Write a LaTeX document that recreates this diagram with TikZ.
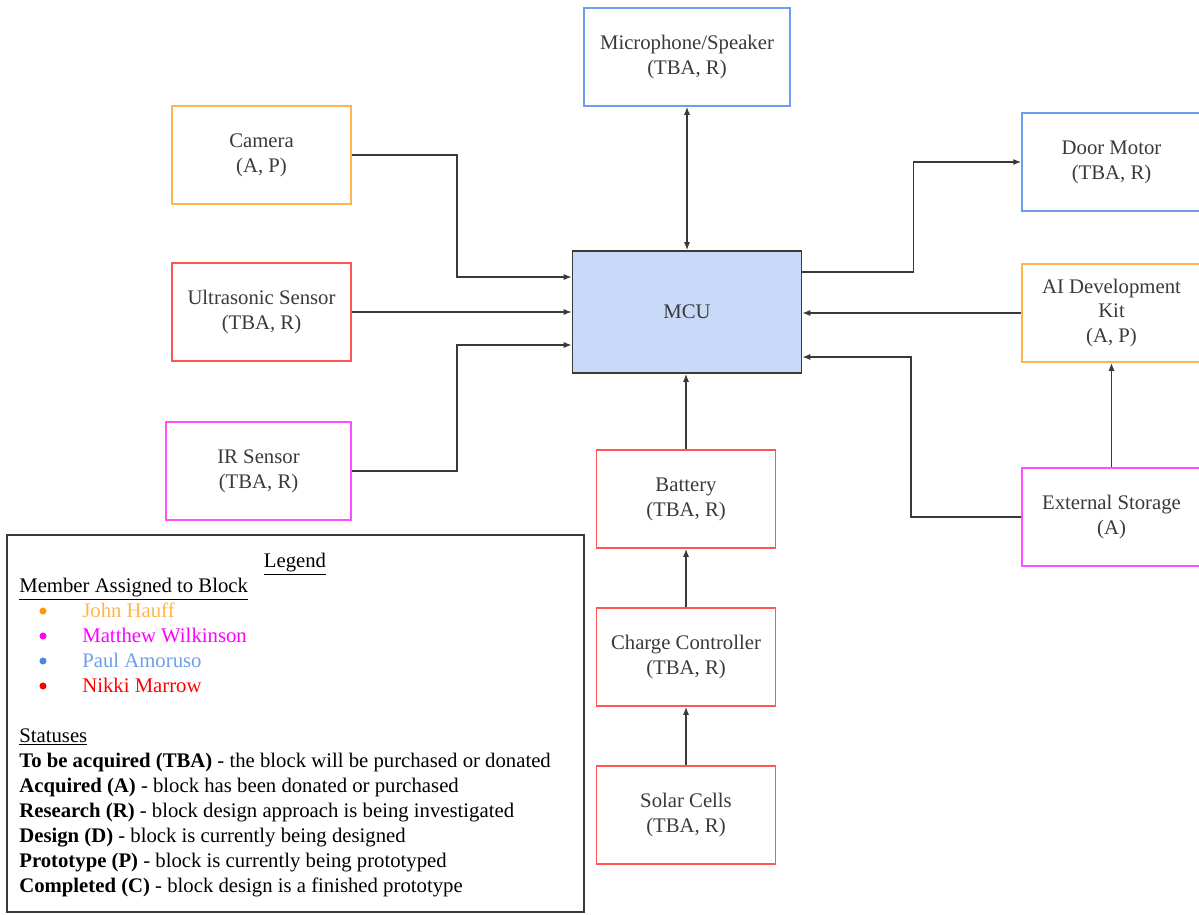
\documentclass[tikz,border=0pt]{standalone}
\usepackage{fontspec}
\setmainfont{Liberation Serif}
\usetikzlibrary{arrows.meta}
\definecolor{jhC}{HTML}{FFB54D}
\definecolor{mwC}{HTML}{FF4DFF}
\definecolor{paC}{HTML}{6D9EEB}
\definecolor{nmC}{HTML}{FF5555}
\definecolor{jhD}{HTML}{FF9900}
\definecolor{mwD}{HTML}{FF00FF}
\definecolor{paD}{HTML}{4A86E8}
\definecolor{nmD}{HTML}{FF0000}
\definecolor{mcuC}{HTML}{C9DAF8}
\definecolor{lineC}{HTML}{3A3A3A}
\tikzset{
  blk/.style={draw, line width=1pt, fill=white, text=lineC, align=center,
    minimum width=3.58cm, minimum height=1.96cm},
  conn/.style={draw=lineC, line width=0.8pt, -{Latex[length=4.5pt,width=3.5pt]}},
  txt/.style={anchor=base west, inner sep=0pt, text=black},
  dot/.style={circle, inner sep=0pt, minimum size=4pt}
}
\begin{document}
\begin{tikzpicture}[x=0.02cm,y=-0.02cm,font=\fontsize{11.8pt}{14.2pt}\selectfont]
  \useasboundingbox (0,0) rectangle (1199,915);
  % blocks
  \node[blk, draw=paC, minimum width=4.12cm] (mic) at (687,57) {Microphone/Speaker\\(TBA, R)};
  \node[blk, draw=jhC] (cam) at (261.5,155) {Camera\\(A, P)};
  \node[blk, draw=nmC] (us) at (261.5,312) {Ultrasonic Sensor\\(TBA, R)};
  \node[blk, draw=mwC, minimum width=3.7cm] (ir) at (258.5,471) {IR Sensor\\(TBA, R)};
  \node[blk, draw=lineC, fill=mcuC, minimum width=4.58cm, minimum height=2.44cm] (mcu) at (687,312) {MCU};
  \node[blk, draw=paC] (door) at (1111.5,162) {Door Motor\\(TBA, R)};
  \node[blk, draw=jhC] (ai) at (1111.5,313) {AI Development\\Kit\\(A, P)};
  \node[blk, draw=mwC] (ext) at (1111.5,517) {External Storage\\(A)};
  \node[blk, draw=nmC] (bat) at (686,499) {Battery\\(TBA, R)};
  \node[blk, draw=nmC] (chg) at (686,657) {Charge Controller\\(TBA, R)};
  \node[blk, draw=nmC] (sol) at (686,815) {Solar Cells\\(TBA, R)};
  % connectors
  \draw[conn, {Latex[length=4.5pt,width=3.5pt]}-{Latex[length=4.5pt,width=3.5pt]}] (mic.south) -- (mcu.north);
  \draw[conn] (cam.east) -- ++(105,0) |- ([yshift=0.7cm]mcu.west);
  \draw[conn] (us.east) -- (mcu.west);
  \draw[conn] (ir.east) -- ++(105,0) |- ([yshift=-0.66cm]mcu.west);
  \draw[conn] ([yshift=0.8cm]mcu.east) -- ++(111,0) |- (door.west);
  \draw[conn] (ai.west) -- (ai.west -| mcu.east);
  \draw[conn] (ext.west) -- ++(-110,0) |- ([yshift=-0.9cm]mcu.east);
  \draw[conn] (ext.north) -- (ai.south);
  \draw[conn] (bat.north) -- (bat.north |- mcu.south);
  \draw[conn] (chg.north) -- (bat.south);
  \draw[conn] (sol.north) -- (chg.south);
  % legend
  \node[draw=lineC, line width=0.9pt, minimum width=11.54cm, minimum height=7.54cm] (leg) at (295.5,723.5) {};
  \node[anchor=base, inner sep=0pt] (legT) at (295,567) {\underline{Legend}};
  \node[txt] (mem) at (19,592) {\underline{Member Assigned to Block}};
  \node[dot, fill=jhD] (d1) at (43,611) {};
  \node[dot, fill=mwD] (d2) at (43,636) {};
  \node[dot, fill=paD] (d3) at (43,661) {};
  \node[dot, fill=nmD] (d4) at (43,686) {};
  \node[txt, text=jhC] (n1) at (82,617) {John Hauff};
  \node[txt, text=mwD] (n2) at (82,642) {Matthew Wilkinson};
  \node[txt, text=paC] (n3) at (82,667) {Paul Amoruso};
  \node[txt, text=nmD] (n4) at (82,692) {Nikki Marrow};
  \node[txt] (st) at (19,742) {\underline{Statuses}};
  \node[txt] (s1) at (19,767) {\textbf{To be acquired (TBA)} - the block will be purchased or donated};
  \node[txt] (s2) at (19,792) {\textbf{Acquired (A)} - block has been donated or purchased};
  \node[txt] (s3) at (19,817) {\textbf{Research (R)} - block design approach is being investigated};
  \node[txt] (s4) at (19,842) {\textbf{Design (D)} - block is currently being designed};
  \node[txt] (s5) at (19,867) {\textbf{Prototype (P)} - block is currently being prototyped};
  \node[txt] (s6) at (19,892) {\textbf{Completed (C)} - block design is a finished prototype};
\end{tikzpicture}
\end{document}
